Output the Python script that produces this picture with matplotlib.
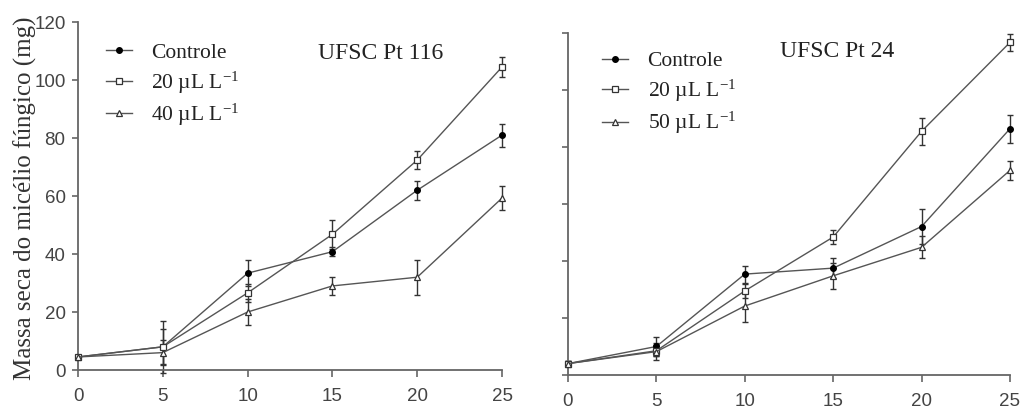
import matplotlib
matplotlib.use("Agg")
import matplotlib.pyplot as plt
from matplotlib import font_manager

plt.rcParams["mathtext.fontset"] = "custom"
plt.rcParams["mathtext.default"] = "regular"

SERIF = ["Liberation Serif", "DejaVu Serif"]
# tick numbers are a narrow sans in the original; use Narrow if it exists
_names = {f.name for f in font_manager.fontManager.ttflist}
if "Liberation Sans Narrow" in _names:
    NUM, NUM_SIZE = ["Liberation Sans Narrow"], 15
else:
    NUM, NUM_SIZE = ["Liberation Sans", "DejaVu Sans"], 13.5

days = [0, 5, 10, 15, 20, 25]

# UFSC Pt 116
pt116_ctrl = [4.5, 8.0, 33.4, 40.8, 62.0, 81.0]
pt116_ctrl_err = [0.8, 9.0, 4.5, 1.5, 3.3, 4.0]
pt116_20 = [4.5, 8.0, 26.6, 46.8, 72.4, 104.5]
pt116_20_err = [0.8, 6.0, 3.0, 5.0, 3.0, 3.5]
pt116_40 = [4.5, 6.0, 20.0, 29.0, 32.0, 59.3]
pt116_40_err = [0.8, 4.3, 4.6, 3.0, 6.0, 4.2]

# UFSC Pt 24
pt24_ctrl = [4.0, 10.0, 35.4, 37.5, 52.1, 86.4]
pt24_ctrl_err = [0.8, 3.5, 3.0, 3.5, 6.0, 5.0]
pt24_20 = [4.0, 8.5, 29.5, 48.4, 85.5, 116.7]
pt24_20_err = [0.8, 2.0, 2.5, 2.5, 4.7, 3.0]
pt24_50 = [4.0, 8.2, 24.2, 34.8, 44.8, 71.8]
pt24_50_err = [0.8, 3.0, 5.5, 4.5, 3.8, 3.3]

ylabel = "Massa seca do micélio fúngico (mg)"
LINE = "#555555"

fig = plt.figure(figsize=(10.21, 4.08), dpi=100)
axL = fig.add_axes([0.0764, 0.0931, 0.4153, 0.8529])
axR = fig.add_axes([0.5563, 0.0809, 0.4329, 0.8382])

panels = [
    (axL, "UFSC Pt 116", [(pt116_ctrl, pt116_ctrl_err, "Controle"),
                          (pt116_20, pt116_20_err, r"20 µL L$^{-1}$"),
                          (pt116_40, pt116_40_err, r"40 µL L$^{-1}$")],
     (0.311, 0.870), (0.104, 0.895)),
    (axR, "UFSC Pt 24", [(pt24_ctrl, pt24_ctrl_err, "Controle"),
                         (pt24_20, pt24_20_err, r"20 µL L$^{-1}$"),
                         (pt24_50, pt24_50_err, r"50 µL L$^{-1}$")],
     (0.764, 0.873), (0.590, 0.875)),
]
markers = [dict(marker="o", ms=4, mfc="black", mec="black"),
           dict(marker="s", ms=4.5, mfc="white", mec="#333333", mew=0.9),
           dict(marker="^", ms=4.5, mfc="white", mec="#333333", mew=0.9)]

for ax, title, series, tpos, lpos in panels:
    for (vals, err, lab), mk in zip(series, markers):
        ax.errorbar(days, vals, yerr=err, fmt="none", ecolor="#333333",
                    elinewidth=1.0, capsize=2.5, capthick=1.0, zorder=2)
        ax.plot(days, vals, color=LINE, lw=1.0, label=lab, zorder=3, **mk)
    ax.set_xlim(0, 25)
    ax.set_ylim(0, 120)
    ax.set_xticks(days)
    ax.set_yticks(range(0, 121, 20))
    for s in ["top", "right"]:
        ax.spines[s].set_visible(False)
    for s in ["left", "bottom"]:
        ax.spines[s].set_color("#666666")
        ax.spines[s].set_linewidth(1.3)
    ax.tick_params(axis="both", direction="out", colors="#666666", width=1.2)
    ax.tick_params(axis="x", length=5, pad=8, labelcolor="#444444")
    ax.tick_params(axis="y", length=4, pad=5, labelcolor="#444444")
    for t in ax.get_xticklabels() + ax.get_yticklabels():
        t.set_family(NUM)
        t.set_fontsize(NUM_SIZE)
    for art in ax.lines + ax.collections:
        art.set_clip_on(False)
    fig.text(tpos[0], tpos[1], title, family=SERIF, fontsize=17,
             color="#222222", va="center", ha="left")
    ax.legend(loc="upper left", bbox_to_anchor=lpos, bbox_transform=fig.transFigure,
              frameon=False, borderpad=0, borderaxespad=0, handlelength=1.2,
              handletextpad=0.9, labelspacing=0.3,
              prop=dict(family=SERIF, size=15.5), labelcolor="#222222")

axR.set_yticklabels([])
fig.text(0.0245, 0.515, ylabel, family=SERIF, fontsize=18, rotation=90,
         va="center", ha="center", color="#333333")

fig.savefig("out.png", dpi=100)
